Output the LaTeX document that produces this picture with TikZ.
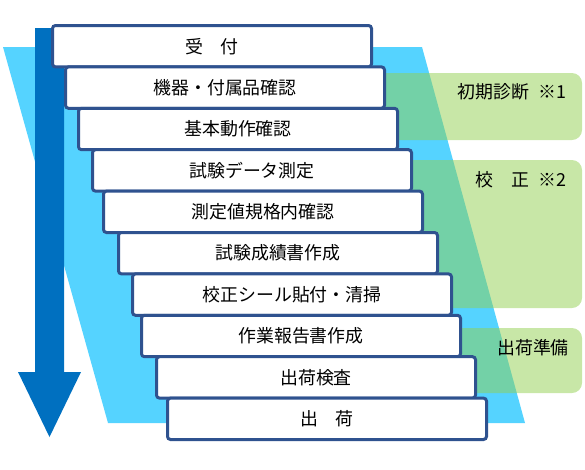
\documentclass[tikz,border=0pt]{standalone}
\usepackage{fontspec}
\setmainfont{Noto Sans CJK JP}
\usepackage{tikz}
\usetikzlibrary{positioning}
\definecolor{mynavy}{RGB}{47,82,143}
\definecolor{myblue}{RGB}{0,112,192}
\definecolor{mycyan}{RGB}{85,211,255}
\definecolor{mygreen}{RGB}{146,208,80}
\newcommand{\stepfont}{\fontsize{17.9pt}{20pt}\selectfont}
\tikzset{
  stepbox/.style={rectangle, draw=mynavy, fill=white, line width=3pt,
    minimum width=319pt, minimum height=41.4pt, rounded corners=3pt,
    inner sep=0pt, font=\stepfont},
  grpband/.style={fill=mygreen, fill opacity=0.5, rounded corners=10pt},
  grplabel/.style={inner sep=0pt, font=\stepfont}
}
\begin{document}
\begin{tikzpicture}[x=1pt, y=-1pt]
  \useasboundingbox (0,0) rectangle (585,469);

  % Slanted background band
  \fill[mycyan] (3,47) -- (422,47) -- (525,423) -- (108,423) -- cycle;

  % Phase bands on the right
  \fill[grpband] (360,73) rectangle (582,140);
  \fill[grpband] (360,160) rectangle (582,308);
  \fill[grpband] (360,328) rectangle (582,393);
  \node[grplabel] (diag) at (512,92) {初期診断\hspace{0.5em}※1};
  \node[grplabel] (calib) at (521,180) {校　正\hspace{0.5em}※2};
  \node[grplabel] (prep) at (533,348) {出荷準備};

  % Flow direction arrow
  \fill[myblue] (35,28) -- (64,28) -- (64,372) -- (81,372) -- (49.5,437)
    -- (18,372) -- (35,372) -- cycle;

  % Work steps
  \node[stepbox] (s1) at (212,46.2) {受　付};
  \node[stepbox] (s2) at (225,87.6) {機器・付属品確認};
  \node[stepbox] (s3) at (238,129) {基本動作確認};
  \node[stepbox] (s4) at (252,170.4) {試験データ測定};
  \node[stepbox] (s5) at (263,211.8) {測定値規格内確認};
  \node[stepbox] (s6) at (278,253.2) {試験成績書作成};
  \node[stepbox] (s7) at (292,294.6) {校正シール貼付・清掃};
  \node[stepbox] (s8) at (301,336) {作業報告書作成};
  \node[stepbox] (s9) at (316,377.4) {出荷検査};
  \node[stepbox] (s10) at (327,418.8) {出　荷};
\end{tikzpicture}
\end{document}
